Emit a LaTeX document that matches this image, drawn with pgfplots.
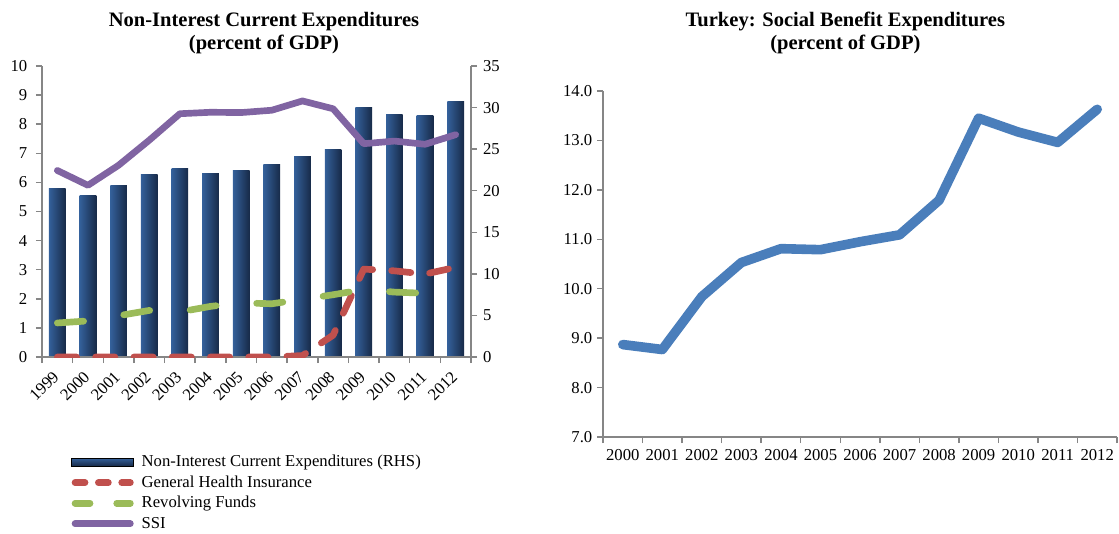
\documentclass[border=0pt]{standalone}
\usepackage{pgfplots}
\pgfplotsset{compat=1.18}
\usepackage{fontspec}
\setmainfont{Liberation Serif}
\definecolor{axisgray}{HTML}{868686}
\definecolor{barmid}{HTML}{5183C4}
\definecolor{barleft}{HTML}{34609A}
\definecolor{barright}{HTML}{172A48}
\definecolor{ssi}{HTML}{8064A2}
\definecolor{ghi}{HTML}{C0504D}
\definecolor{rev}{HTML}{9BBB59}
\definecolor{sbe}{HTML}{4A7EBB}

\pgfplotsset{
  base/.style={scale only axis,
    axis line style={axisgray,line width=1.1pt,-},
    tick style={axisgray,line width=1.1pt},
    tick align=outside, major tick length=4.5pt, minor tick length=4.5pt,
    tick label style={font=\fontsize{12.5}{14}\selectfont},
    /pgf/number format/assume math mode=true},
  nibar/.style={ybar,bar width=12.5pt,draw=none,forget plot,
    left color=barleft,middle color=barmid,right color=barright},
  nilegend/.style={legend image code/.code={%
    \fill[top color=barleft,middle color=barmid,bottom color=barright] (0pt,-3pt) rectangle (46.5pt,3pt);
    \path (49pt,0pt);}},
  ghilegend/.style={legend image code/.code={%
    \draw[ghi,line width=5pt,line cap=round,dash pattern=on 7.5pt off 10pt] (2.5pt,0pt) -- (44pt,0pt);
    \path (49pt,0pt);}},
  revlegend/.style={legend image code/.code={%
    \draw[rev,line width=5pt,line cap=round,dash pattern=on 11.25pt off 20pt] (2.5pt,0pt) -- (44pt,0pt);
    \path (49pt,0pt);}},
  ssilegend/.style={legend image code/.code={%
    \draw[ssi,line width=5pt,line cap=round] (2.5pt,0pt) -- (44pt,0pt);
    \path (49pt,0pt);}},
}

\begin{document}
\begin{tikzpicture}
  \path[use as bounding box] (0pt,0pt) rectangle (839.25pt,399.75pt);

  % titles
  \node[font=\bfseries\fontsize{15.4}{17.25}\selectfont,align=center] at (198pt,375pt)
    {Non-Interest Current Expenditures\\(percent of GDP)};
  \node[font=\bfseries\fontsize{15.4}{17.25}\selectfont,align=center] at (634pt,375pt)
    {Turkey: Social Benefit Expenditures\\(percent of GDP)};

  % left chart: bars on right-hand scale, one plot per bar so each is shaded
  \begin{axis}[base,at={(31.5pt,132pt)},anchor=south west,width=321.75pt,height=218.25pt,
    xmin=-0.5,xmax=13.5,ymin=0,ymax=35,ytick={0,5,...,35},
    axis y line*=right,axis x line=none,
    yticklabel style={xshift=1pt}]
    \addplot[nibar] coordinates {(0,20.3)};
    \addplot[nibar] coordinates {(1,19.4)};
    \addplot[nibar] coordinates {(2,20.6)};
    \addplot[nibar] coordinates {(3,21.9)};
    \addplot[nibar] coordinates {(4,22.7)};
    \addplot[nibar] coordinates {(5,22.1)};
    \addplot[nibar] coordinates {(6,22.4)};
    \addplot[nibar] coordinates {(7,23.2)};
    \addplot[nibar] coordinates {(8,24.1)};
    \addplot[nibar] coordinates {(9,24.9)};
    \addplot[nibar] coordinates {(10,30.0)};
    \addplot[nibar] coordinates {(11,29.2)};
    \addplot[nibar] coordinates {(12,29.0)};
    \addplot[nibar] coordinates {(13,30.7)};
  \end{axis}

  % left chart: lines on left-hand scale
  \begin{axis}[base,at={(31.5pt,132pt)},anchor=south west,width=321.75pt,height=218.25pt,
    xmin=-0.5,xmax=13.5,ymin=0,ymax=10,ytick={0,...,10},
    axis y line*=left,axis x line*=bottom,
    xtick={0,...,13},
    xticklabels={1999,2000,2001,2002,2003,2004,2005,2006,2007,2008,2009,2010,2011,2012},
    major x tick style={draw=none},
    minor xtick={-0.5,0.5,...,13.5},
    xticklabel style={xshift=-4pt,yshift=-3.8pt,rotate=45,anchor=north east,inner sep=1pt},
    yticklabel style={xshift=-3pt},
    legend style={draw=none,fill=none,at={(0.068,-0.325)},anchor=north west,
      font=\fontsize{12.5}{14}\selectfont,inner sep=0pt,row sep=0pt,
      nodes={inner sep=1pt,text height=10pt,text depth=3.4pt}},
    legend cell align=left]
    \addlegendimage{nilegend}
    \addlegendentry{Non-Interest Current Expenditures (RHS)}
    \addplot[ghi,ghilegend,line width=5pt,line cap=round,line join=round,dash pattern=on 14.5pt off 14.2pt] coordinates {
      (0,0) (1,0) (2,0) (3,0) (4,0) (5,0) (6,0) (7,0) (8,0.05) (9,0.75)
      (10,3.02) (11,2.96) (12,2.85) (13,3.08)};
    \addlegendentry{General Health Insurance}
    \addplot[rev,revlegend,line width=5pt,line cap=round,line join=round,dash pattern=on 19.75pt off 30.5pt] coordinates {
      (0,1.17) (1,1.24) (2,1.42) (3,1.60) (4,1.55) (5,1.74) (6,1.86) (7,1.83)
      (8,1.98) (9,2.14) (10,2.32) (11,2.23) (12,2.19)};
    \addlegendentry{Revolving Funds}
    \addplot[ssi,ssilegend,line width=5pt,line cap=round,line join=round] coordinates {
      (0,6.41) (1,5.90) (2,6.59) (3,7.45) (4,8.36) (5,8.41) (6,8.40)
      (7,8.48) (8,8.80) (9,8.53) (10,7.33) (11,7.42) (12,7.31) (13,7.64)};
    \addlegendentry{SSI}
  \end{axis}

  % right chart
  \begin{axis}[base,at={(452.25pt,72pt)},anchor=south west,width=385.5pt,height=259.5pt,
    xmin=-0.5,xmax=12.5,ymin=7,ymax=14,ytick={7,...,14},
    axis y line*=left,axis x line*=bottom,
    xtick={0,...,12},
    xticklabels={2000,2001,2002,2003,2004,2005,2006,2007,2008,2009,2010,2011,2012},
    major x tick style={draw=none},
    minor xtick={-0.5,0.5,...,12.5},
    xticklabel style={yshift=-1pt},
    yticklabel style={/pgf/number format/.cd,fixed,fixed zerofill,precision=1}]
    \addplot[sbe,line width=7.2pt,line cap=round,line join=round] coordinates {
      (0,8.87) (1,8.77) (2,9.84) (3,10.53) (4,10.81) (5,10.79) (6,10.95)
      (7,11.09) (8,11.79) (9,13.45) (10,13.17) (11,12.96) (12,13.63)};
  \end{axis}
\end{tikzpicture}
\end{document}
